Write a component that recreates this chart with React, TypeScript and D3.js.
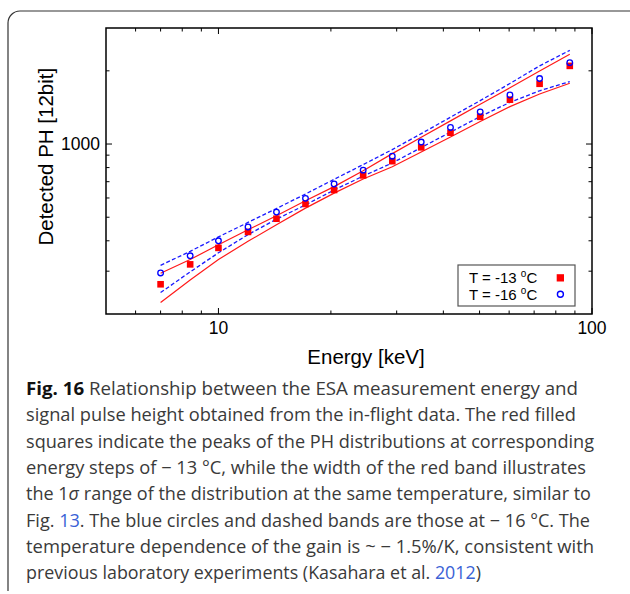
import * as d3 from "d3";

// energy steps [keV]
const energies = [7.0, 8.4, 10.0, 12.0, 14.3, 17.1, 20.4, 24.4, 29.2, 34.9, 41.8, 50.2, 60.3, 72.4, 87.2];
// peak PH, T = -13 C (red squares) and T = -16 C (blue circles)
const peakM13 = [265, 320, 374, 435, 493, 567, 647, 743, 850, 969, 1113, 1294, 1522, 1769, 2096];
const peakM16 = [295, 347, 400, 456, 525, 598, 685, 781, 891, 1019, 1170, 1356, 1591, 1859, 2161];
// 1 sigma bands
const upperM13 = [294, 335, 385, 444, 507, 584, 668, 777, 913, 1066, 1245, 1457, 1704, 1995, 2339];
const lowerM13 = [223, 276, 335, 398, 466, 545, 628, 718, 806, 928, 1068, 1238, 1425, 1606, 1777];
const upperM16 = [317, 362, 415, 476, 543, 623, 716, 823, 949, 1103, 1289, 1508, 1774, 2096, 2428];
const lowerM16 = [245, 298, 357, 424, 491, 562, 647, 738, 836, 967, 1119, 1297, 1484, 1656, 1807];

const xMajor = [10, 100];
const xMinor = [6, 7, 8, 9, 20, 30, 40, 50, 60, 70, 80, 90];
const yMajor = [1000];
const yMinor = [300, 400, 500, 600, 700, 800, 900, 2000];

const captionLines = [
  "Relationship between the ESA measurement energy and",
  "signal pulse height obtained from the in-flight data. The red filled",
  "squares indicate the peaks of the PH distributions at corresponding",
  "energy steps of \u2212 13 \u00b0C, while the width of the red band illustrates",
  "range of the distribution at the same temperature, similar to",
  ". The blue circles and dashed bands are those at \u2212 16 \u00b0C. The",
  "temperature dependence of the gain is ~ \u2212 1.5%/K, consistent with",
  "previous laboratory experiments (Kasahara et al. ",
];
const captionWidths = [552, 550, 568, 560, 565, 564, 568, 455];

const W = 630;
const H = 594;
const margin = { top: 28, right: 38, bottom: 280, left: 106 };

export default function App() {
  const x = d3.scaleLog().domain([5, 100]).range([margin.left, W - margin.right]);
  const y = d3.scaleLog().domain([200, 3000]).range([H - margin.bottom, margin.top]);
  const x0 = margin.left, x1 = W - margin.right;
  const y0 = H - margin.bottom, y1 = margin.top;

  const line = d3
    .line<number>()
    .x((_, i) => x(energies[i]))
    .y((d) => y(d));

  const font = "'Liberation Sans', Arial, sans-serif";
  const capFont = "'Open Sans', 'Noto Sans', sans-serif";
  const linkBlue = "#3a62d6";
  const capY = (i: number) => 395 + i * 26.3;

  return (
    <svg width={W} height={H} style={{ position: "absolute", left: 0, top: 0, background: "#fff" }}>
      {/* card outline */}
      <path d="M 630 11 H 20 A 12 12 0 0 0 8 23 V 591" fill="none" stroke="#333" strokeWidth={1.2} />

      {/* bands */}
      <path d={line(upperM13) || ""} fill="none" stroke="#ff1a1a" strokeWidth={1.2} />
      <path d={line(lowerM13) || ""} fill="none" stroke="#ff1a1a" strokeWidth={1.2} />
      <path d={line(upperM16) || ""} fill="none" stroke="#1a1aff" strokeWidth={1.3} strokeDasharray="4,2.3" />
      <path d={line(lowerM16) || ""} fill="none" stroke="#1a1aff" strokeWidth={1.3} strokeDasharray="4,2.3" />

      {/* points */}
      {peakM13.map((v, i) => (
        <rect key={"s" + i} x={x(energies[i]) - 3.3} y={y(v) - 3.3} width={6.6} height={6.6} fill="#ff0000" />
      ))}
      {peakM16.map((v, i) => (
        <circle key={"c" + i} cx={x(energies[i])} cy={y(v)} r={2.8} fill="none" stroke="#0000ff" strokeWidth={1.3} />
      ))}

      {/* frame */}
      <rect x={x0} y={y1} width={x1 - x0} height={y0 - y1} fill="none" stroke="#000" strokeWidth={1.5} />

      {/* x ticks, inward on bottom and top */}
      {xMinor.map((t) => (
        <g key={"xm" + t} stroke="#000" strokeWidth={1}>
          <line x1={x(t)} x2={x(t)} y1={y0} y2={y0 - 3.5} />
          <line x1={x(t)} x2={x(t)} y1={y1} y2={y1 + 3.5} />
        </g>
      ))}
      {xMajor.map((t) => (
        <g key={"xM" + t}>
          <line x1={x(t)} x2={x(t)} y1={y0} y2={y0 - 6} stroke="#000" strokeWidth={1} />
          <line x1={x(t)} x2={x(t)} y1={y1} y2={y1 + 6} stroke="#000" strokeWidth={1} />
          <text x={x(t)} y={334} textAnchor="middle" fontFamily={font} fontSize={17.5} fill="#000">
            {t}
          </text>
        </g>
      ))}

      {/* y ticks, inward on left and right */}
      {yMinor.map((t) => (
        <g key={"ym" + t} stroke="#000" strokeWidth={1}>
          <line x1={x0} x2={x0 + 3.5} y1={y(t)} y2={y(t)} />
          <line x1={x1} x2={x1 - 3.5} y1={y(t)} y2={y(t)} />
        </g>
      ))}
      {yMajor.map((t) => (
        <g key={"yM" + t}>
          <line x1={x0} x2={x0 + 6} y1={y(t)} y2={y(t)} stroke="#000" strokeWidth={1} />
          <line x1={x1} x2={x1 - 6} y1={y(t)} y2={y(t)} stroke="#000" strokeWidth={1} />
          <text x={100} y={y(t)} dy="0.35em" textAnchor="end" fontFamily={font} fontSize={17.5} fill="#000">
            {t}
          </text>
        </g>
      ))}

      {/* axis titles */}
      <text x={366} y={364} textAnchor="middle" fontFamily={font} fontSize={20.5} fill="#000">
        Energy [keV]
      </text>
      <text
        transform="translate(52.5,156.7) rotate(-90)"
        textAnchor="middle"
        fontFamily={font}
        fontSize={20.5}
        fill="#000"
      >
        Detected PH [12bit]
      </text>

      {/* legend */}
      <rect x={458} y={265} width={117} height={41} fill="#fff" stroke="#555" strokeWidth={1.2} />
      <text x={469} y={283} fontFamily={font} fontSize={15} fill="#000">
        T = -13 <tspan fontSize={10} dy={-6}>o</tspan>
        <tspan dy={6}>C</tspan>
      </text>
      <text x={469} y={299.5} fontFamily={font} fontSize={15} fill="#000">
        T = -16 <tspan fontSize={10} dy={-6}>o</tspan>
        <tspan dy={6}>C</tspan>
      </text>
      <rect x={556.7} y={274.2} width={7.3} height={7.3} fill="#ff0000" />
      <circle cx={560.4} cy={294.2} r={3} fill="none" stroke="#0000ff" strokeWidth={1.4} />

      {/* caption */}
      <g fontFamily={capFont} fontSize={17.5} fill="#3a3a3a">
        <text x={26} y={capY(0)} textLength={captionWidths[0]} lengthAdjust="spacingAndGlyphs">
          <tspan fontWeight={700} fill="#111">Fig. 16</tspan>
          {"  " + captionLines[0]}
        </text>
        <text x={26} y={capY(1)} textLength={captionWidths[1]} lengthAdjust="spacingAndGlyphs">
          {captionLines[1]}
        </text>
        <text x={26} y={capY(2)} textLength={captionWidths[2]} lengthAdjust="spacingAndGlyphs">
          {captionLines[2]}
        </text>
        <text x={26} y={capY(3)} textLength={captionWidths[3]} lengthAdjust="spacingAndGlyphs">
          {captionLines[3]}
        </text>
        <text x={26} y={capY(4)} textLength={captionWidths[4]} lengthAdjust="spacingAndGlyphs">
          {"the 1"}
          <tspan fontStyle="italic">{"\u03c3"}</tspan>
          {" " + captionLines[4]}
        </text>
        <text x={26} y={capY(5)} textLength={captionWidths[5]} lengthAdjust="spacingAndGlyphs">
          {"Fig. "}
          <tspan fill={linkBlue}>13</tspan>
          {captionLines[5]}
        </text>
        <text x={26} y={capY(6)} textLength={captionWidths[6]} lengthAdjust="spacingAndGlyphs">
          {captionLines[6]}
        </text>
        <text x={26} y={capY(7)} textLength={captionWidths[7]} lengthAdjust="spacingAndGlyphs">
          {captionLines[7]}
          <tspan fill={linkBlue}>2012</tspan>
          {")"}
        </text>
      </g>
    </svg>
  );
}
